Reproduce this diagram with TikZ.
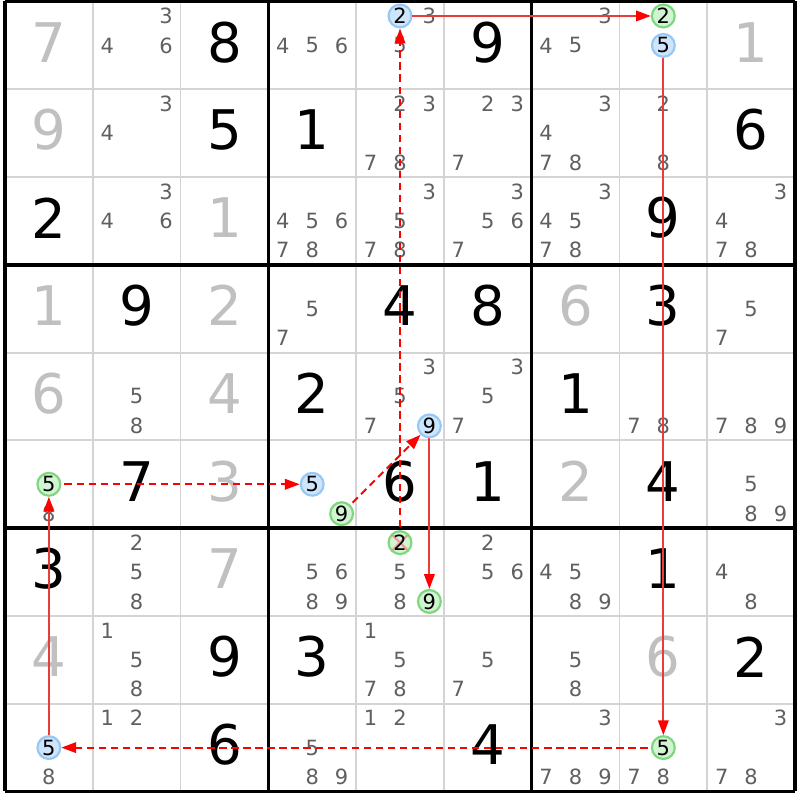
\documentclass[tikz,border=0pt]{standalone}
\usepackage{fontspec}
\setmainfont{DejaVu Sans}
\usetikzlibrary{arrows.meta}
\definecolor{solvedgray}{RGB}{192,192,192}
\definecolor{candgray}{RGB}{96,96,96}
\definecolor{gridgray}{RGB}{212,212,212}
\definecolor{bluefill}{RGB}{206,229,251}
\definecolor{blueline}{RGB}{150,200,245}
\definecolor{greenfill}{RGB}{210,244,210}
\definecolor{greenline}{RGB}{125,215,125}
\definecolor{linkred}{RGB}{235,60,60}
\definecolor{crossred}{RGB}{240,150,150}

\begin{document}
\begin{tikzpicture}[x=1cm, y=1cm,
  given/.style = {font=\fontsize{17.7}{20}\selectfont, inner sep=0pt},
  solved/.style = {given, text=solvedgray},
  cand/.style = {font=\fontsize{6.8}{8}\selectfont, text=candgray, inner sep=0pt},
  bluecand/.style = {cand, text=black, circle, minimum size=0.26cm, line width=0.7pt, draw=blueline, fill=bluefill},
  greencand/.style = {bluecand, draw=greenline, fill=greenfill},
  strong/.style = {linkred, line width=0.65pt, -{Triangle[length=4.8pt, width=3.4pt, color=red]}},
  weak/.style = {red, line width=0.65pt, dash pattern=on 2.4pt off 1.5pt, shorten <=1pt, -{Triangle[length=4.8pt, width=3.4pt]}}]
\useasboundingbox (-0.057,0.017) rectangle (9.057,-9.097);
\fill[white] (-0.057,0.017) rectangle (9.057,-9.097);

% grid
\foreach \i in {1,2,4,5,7,8} {
  \draw[gridgray, line width=0.6pt] (\i,0) -- (\i,-9);
  \draw[gridgray, line width=0.6pt] (0,-\i) -- (9,-\i);
}
\foreach \i in {0,3,6,9} {
  \draw[line width=1.1pt] (\i,0) -- (\i,-9);
  \draw[line width=1.1pt] (0,-\i) -- (9,-\i);
}

% clues and solved cells
\foreach \r/\c/\d in {1/3/8, 1/6/9, 2/3/5, 2/4/1, 2/9/6, 3/1/2, 3/8/9, 4/2/9, 4/5/4, 4/6/8, 4/8/3,
    5/4/2, 5/7/1, 6/2/7, 6/5/6, 6/6/1, 6/8/4, 7/1/3, 7/8/1, 8/3/9, 8/4/3, 8/9/2, 9/3/6, 9/6/4}
  \node[given] (g\r\c) at (\c-0.5,-\r+0.535) {\d};
\foreach \r/\c/\d in {1/1/7, 1/9/1, 2/1/9, 3/3/1, 4/1/1, 4/3/2, 4/7/6, 5/1/6, 5/3/4, 6/3/3, 6/7/2, 7/3/7, 8/1/4, 8/8/6}
  \node[solved] (s\r\c) at (\c-0.5,-\r+0.535) {\d};

% candidates
\foreach \r/\c/\l in {1/2/{3,4,6}, 1/4/{4,5,6}, 1/5/{3,5}, 1/7/{3,4,5},
    2/2/{3,4}, 2/5/{2,3,7,8}, 2/6/{2,3,7}, 2/7/{3,4,7,8}, 2/8/{2,8},
    3/2/{3,4,6}, 3/4/{4,5,6,7,8}, 3/5/{3,5,7,8}, 3/6/{3,5,6,7}, 3/7/{3,4,5,7,8}, 3/9/{3,4,7,8},
    4/4/{5,7}, 4/9/{5,7},
    5/2/{5,8}, 5/5/{3,5,7}, 5/6/{3,5,7}, 5/8/{7,8}, 5/9/{7,8,9},
    6/1/{8}, 6/9/{5,8,9},
    7/2/{2,5,8}, 7/4/{5,6,8,9}, 7/5/{5,8}, 7/6/{2,5,6}, 7/7/{4,5,8,9}, 7/9/{4,8},
    8/2/{1,5,8}, 8/5/{1,5,7,8}, 8/6/{5,7}, 8/7/{5,8},
    9/1/{8}, 9/2/{1,2}, 9/4/{5,8,9}, 9/5/{1,2}, 9/7/{3,7,8,9}, 9/8/{7,8}, 9/9/{3,7,8}}
  \foreach \k in \l
    \node[cand] (c\r\c\k) at ({\c-0.835+0.335*mod(\k-1,3)},{-\r+0.835-0.335*int((\k-1)/3)}) {\k};

% chain
\node[bluecand] (r1c5-2) at (4.5,-0.165) {2};
\node[greencand] (r1c8-2) at (7.5,-0.165) {2};
\node[bluecand] (r1c8-5) at (7.5,-0.5) {5};
\node[greencand] (r9c8-5) at (7.5,-8.5) {5};
\node[bluecand] (r9c1-5) at (0.5,-8.5) {5};
\node[greencand] (r6c1-5) at (0.5,-5.5) {5};
\node[bluecand] (r6c4-5) at (3.5,-5.5) {5};
\node[greencand] (r6c4-9) at (3.835,-5.835) {9};
\node[bluecand] (r5c5-9) at (4.835,-4.835) {9};
\node[greencand] (r7c5-9) at (4.835,-6.835) {9};
\node[greencand, path picture={
    \draw[crossred, line width=0.7pt] (path picture bounding box.south west) -- (path picture bounding box.north east);
    \draw[crossred, line width=0.7pt] (path picture bounding box.north west) -- (path picture bounding box.south east);}]
  (r7c5-2) at (4.5,-6.165) {2};

\draw[weak] (r7c5-2) -- (r1c5-2);
\draw[strong] (r1c5-2) -- (r1c8-2);
\draw[strong] (r1c8-5) -- (r9c8-5);
\draw[weak] (r9c8-5) -- (r9c1-5);
\draw[strong] (r9c1-5) -- (r6c1-5);
\draw[weak] (r6c1-5) -- (r6c4-5);
\draw[weak] (r6c4-9) -- (r5c5-9);
\draw[strong] (r5c5-9) -- (r7c5-9);
\end{tikzpicture}
\end{document}
